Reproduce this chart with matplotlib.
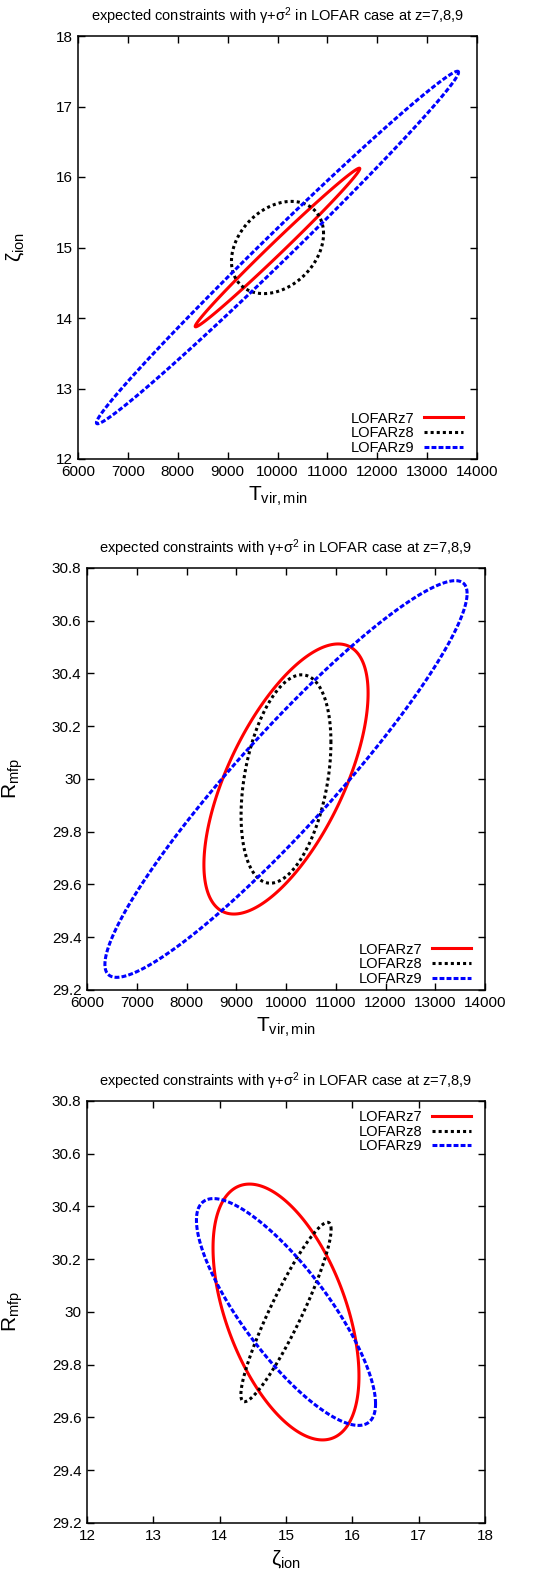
import numpy as np
import matplotlib
matplotlib.use("Agg")
import matplotlib.pyplot as plt
from matplotlib.lines import Line2D
from matplotlib.patches import Polygon
from matplotlib.ticker import MultipleLocator, FuncFormatter

plt.rcParams["font.family"] = ["Liberation Sans", "DejaVu Sans"]
plt.rcParams["mathtext.fontset"] = "custom"
plt.rcParams["mathtext.rm"] = "Liberation Sans"
plt.rcParams["mathtext.it"] = "Liberation Sans"
plt.rcParams["mathtext.bf"] = "Liberation Sans:bold"

labels = ["LOFARz7", "LOFARz8", "LOFARz9"]
colors = ["#ff0000", "#000000", "#0000ff"]

# fiducial values
fid_tvir = 10000.0
fid_zeta = 15.0
fid_rmfp = 30.0

# panel 1: T_vir,min vs zeta_ion  (half extents and correlation)
p1_sx = [1650, 923, 3630]
p1_sy = [1.125, 0.654, 2.5]
p1_rho = [0.994, 0.30, 0.994]

# panel 2: T_vir,min vs R_mfp
p2_sx = [1650, 903, 3640]
p2_sy = [0.512, 0.395, 0.752]
p2_rho = [0.635, 0.35, 0.935]

# panel 3: zeta_ion vs R_mfp
p3_sx = [1.10, 0.68, 1.35]
p3_sy = [0.485, 0.34, 0.43]
p3_rho = [-0.50, 0.92, -0.81]

title = r"expected constraints with $\gamma$+$\sigma^2$ in LOFAR case at z=7,8,9"


def ellipse(cx, cy, sx, sy, rho, n=600):
    t = np.linspace(0, 2 * np.pi, n, endpoint=False)
    x = cx + sx * np.cos(t)
    y = cy + sy * (rho * np.cos(t) + np.sqrt(1 - rho ** 2) * np.sin(t))
    return np.column_stack([x, y])


linestyles = ["-", (0, (1.0, 1.0)), (0, (1.6, 0.7))]
lw = 2.2

W, H = 555, 1576
fig = plt.figure(figsize=(W / 100, H / 100), dpi=100)


def make_axes(left, right, top, bottom):
    return fig.add_axes([left / W, 1 - bottom / H, (right - left) / W, (bottom - top) / H])


def style_axes(ax):
    ax.tick_params(direction="in", top=True, right=True, length=5, width=1,
                   labelsize=11, pad=4)
    for s in ax.spines.values():
        s.set_linewidth(1.1)
    ax.yaxis.set_major_formatter(FuncFormatter(lambda v, p: f"{round(v, 6):g}"))


def draw(ax, cx, cy, sx, sy, rho):
    for i in range(3):
        pts = ellipse(cx, cy, sx[i], sy[i], rho[i])
        ax.add_patch(Polygon(pts, closed=True, fill=False, edgecolor=colors[i],
                             linewidth=lw, linestyle=linestyles[i], joinstyle="round"))


def add_legend(ax, loc, anchor):
    handles = [Line2D([], [], color=colors[i], linewidth=lw, linestyle=linestyles[i],
                      dash_capstyle="butt") for i in range(3)]
    ax.legend(handles, labels, loc=loc, bbox_to_anchor=anchor, frameon=False, markerfirst=False,
              fontsize=10.5, handlelength=2.7, labelspacing=0.05, borderpad=0,
              borderaxespad=0, handletextpad=0.6)


# panel 1
ax1 = make_axes(78, 477, 36, 459)
draw(ax1, fid_tvir, fid_zeta, p1_sx, p1_sy, p1_rho)
ax1.set_xlim(6000, 14000)
ax1.set_ylim(12, 18)
ax1.xaxis.set_major_locator(MultipleLocator(1000))
ax1.yaxis.set_major_locator(MultipleLocator(1))
style_axes(ax1)
ax1.set_xlabel(r"T$_{\rm vir,min}$", fontsize=15)
ax1.set_ylabel(r"$\zeta_{\rm ion}$", fontsize=15)
ax1.xaxis.set_label_coords(0.5, -0.06)
ax1.yaxis.set_label_coords(-0.13, 0.5)
ax1.text(0.5, 1 + 20 / 423, title, transform=ax1.transAxes, ha="center", va="center", fontsize=10.5)
add_legend(ax1, "lower right", (1 - 14 / 399, 4 / 423))

# panel 2
ax2 = make_axes(87, 485, 568, 990)
draw(ax2, fid_tvir, fid_rmfp, p2_sx, p2_sy, p2_rho)
ax2.set_xlim(6000, 14000)
ax2.set_ylim(29.2, 30.8)
ax2.xaxis.set_major_locator(MultipleLocator(1000))
ax2.yaxis.set_major_locator(MultipleLocator(0.2))
style_axes(ax2)
ax2.set_xlabel(r"T$_{\rm vir,min}$", fontsize=15)
ax2.set_ylabel(r"R$_{\rm mfp}$", fontsize=15)
ax2.xaxis.set_label_coords(0.5, -0.06)
ax2.yaxis.set_label_coords(-0.155, 0.5)
ax2.text(0.5, 1 + 20 / 422, title, transform=ax2.transAxes, ha="center", va="center", fontsize=10.5)
add_legend(ax2, "lower right", (1 - 14 / 398, 4 / 422))

# panel 3
ax3 = make_axes(87, 485, 1101, 1523)
draw(ax3, fid_zeta, fid_rmfp, p3_sx, p3_sy, p3_rho)
ax3.set_xlim(12, 18)
ax3.set_ylim(29.2, 30.8)
ax3.xaxis.set_major_locator(MultipleLocator(1))
ax3.yaxis.set_major_locator(MultipleLocator(0.2))
style_axes(ax3)
ax3.set_xlabel(r"$\zeta_{\rm ion}$", fontsize=15)
ax3.set_ylabel(r"R$_{\rm mfp}$", fontsize=15)
ax3.xaxis.set_label_coords(0.5, -0.06)
ax3.yaxis.set_label_coords(-0.155, 0.5)
ax3.text(0.5, 1 + 20 / 422, title, transform=ax3.transAxes, ha="center", va="center", fontsize=10.5)
add_legend(ax3, "upper right", (1 - 14 / 398, 1 - 9 / 422))

fig.savefig("out.png", dpi=100)
